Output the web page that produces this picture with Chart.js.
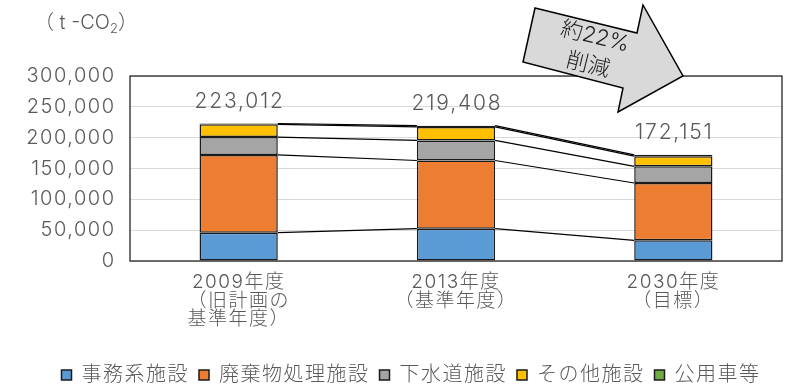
<!DOCTYPE html>
<html lang="ja">
<head>
<meta charset="utf-8">
<script src="https://cdn.jsdelivr.net/npm/chart.js@4/dist/chart.umd.min.js"></script>
<style>
  html, body { margin: 0; padding: 0; background: #fff; }
  #wrap { width: 801px; height: 387px; }
</style>
</head>
<body>
<div id="wrap"><canvas id="myChart" width="801" height="387"></canvas></div>
<script>
const years = [["2009年度", "（旧計画の", "基準年度）"], ["2013年度", "（基準年度）"], ["2030年度", "（目標）"]];
const totals = [223012, 219408, 172151];
const office = [46000, 52500, 33500];
const waste = [126000, 110500, 93000];
const sewer = [29000, 32500, 27000];
const other = [20700, 21900, 16500];
const vehicles = [1312, 2008, 2151];
const seriesNames = ["事務系施設", "廃棄物処理施設", "下水道施設", "その他施設", "公用車等"];
const seriesColors = ["#5B9BD5", "#ED7D31", "#A5A5A5", "#FFC000", "#70AD47"];
const seriesValues = [office, waste, sewer, other, vehicles];

const FONT = "Inter, 'Noto Sans CJK JP', sans-serif";
const textColor = "#595959";
const spacing = "1.5px";

const decor = {
  id: "decor",
  beforeUpdate: (chart) => {
    chart.ctx.letterSpacing = spacing;
  },
  afterLayout: (chart) => {
    // push the legend down a bit, like the original
    chart.legend.top += 8;
    chart.legend.bottom += 8;
    chart.legend.left += 20;
    chart.legend.right += 20;
  },
  beforeDraw: (chart) => {
    chart.ctx.letterSpacing = spacing;
  },
  beforeDatasetsDraw: (chart) => {
    const { ctx, chartArea: a } = chart;
    ctx.save();
    ctx.strokeStyle = "#262626";
    ctx.lineWidth = 1.3;
    ctx.strokeRect(a.left, a.top, a.right - a.left, a.bottom - a.top);
    ctx.restore();
  },
  afterDatasetsDraw: (chart) => {
    const ctx = chart.ctx;
    ctx.save();
    ctx.strokeStyle = "#000";
    ctx.lineWidth = 1.2;
    // series lines between the stacks
    chart.data.datasets.forEach((ds, d) => {
      const meta = chart.getDatasetMeta(d);
      for (let i = 0; i < meta.data.length - 1; i++) {
        const p = meta.data[i];
        const q = meta.data[i + 1];
        ctx.beginPath();
        ctx.moveTo(p.x + p.width / 2, p.y);
        ctx.lineTo(q.x - q.width / 2, q.y);
        ctx.stroke();
      }
    });
    // totals
    const top = chart.getDatasetMeta(chart.data.datasets.length - 1);
    ctx.fillStyle = textColor;
    ctx.font = "300 21px " + FONT;
    ctx.letterSpacing = "1.8px";
    ctx.textAlign = "center";
    ctx.textBaseline = "middle";
    top.data.forEach((bar, i) => {
      ctx.fillText(totals[i].toLocaleString("en-US"), bar.x + 1, bar.y - 22);
    });
    ctx.restore();
  },
  afterDraw: (chart) => {
    const ctx = chart.ctx;
    ctx.save();
    ctx.letterSpacing = "0px";
    // unit
    ctx.fillStyle = textColor;
    ctx.textBaseline = "alphabetic";
    ctx.textAlign = "left";
    ctx.font = "300 20px " + FONT;
    let x = 34;
    const base = 29;
    ctx.fillText("（ t -CO", x, base);
    x += ctx.measureText("（ t -CO").width;
    ctx.font = "300 13px " + FONT;
    ctx.fillText("2", x, base + 4);
    x += ctx.measureText("2").width;
    ctx.font = "300 20px " + FONT;
    ctx.fillText("）", x, base);

    // reduction arrow
    const pts = [[535, 8], [637, 33], [643, 5], [683, 76], [618, 112], [623, 88], [523, 62]];
    ctx.beginPath();
    pts.forEach((p, i) => (i === 0 ? ctx.moveTo(p[0], p[1]) : ctx.lineTo(p[0], p[1])));
    ctx.closePath();
    ctx.fillStyle = "#D9D9D9";
    ctx.fill();
    ctx.strokeStyle = "#000";
    ctx.lineWidth = 1.5;
    ctx.stroke();

    ctx.translate(595, 37);
    ctx.rotate((14 * Math.PI) / 180);
    ctx.fillStyle = "#1a1a1a";
    ctx.font = "300 22px " + FONT;
    ctx.textAlign = "center";
    ctx.textBaseline = "middle";
    ctx.fillText("約22%", 0, 0);
    ctx.fillText("削減", 0, 29);
    ctx.restore();
  },
};

const data = {
  labels: years,
  datasets: seriesNames.map((name, i) => ({
    label: name,
    data: seriesValues[i],
    backgroundColor: seriesColors[i],
    borderColor: "#1a1a1a",
    borderWidth: 1.5,
    borderSkipped: false,
    barPercentage: 0.36,
    categoryPercentage: 1,
  })),
};

const config = {
  type: "bar",
  data: data,
  options: {
    responsive: false,
    animation: false,
    layout: { padding: { top: 76, right: 19, left: 0, bottom: 0 } },
    plugins: {
      legend: {
        position: "bottom",
        labels: {
          font: { family: FONT, size: 20, weight: 300 },
          color: textColor,
          boxWidth: 10,
          boxHeight: 10,
          padding: 10,
        },
      },
      tooltip: { enabled: false },
    },
    scales: {
      x: {
        stacked: true,
        grid: { display: false },
        border: { display: false },
        ticks: {
          color: textColor,
          font: { family: FONT, size: 19, lineHeight: 0.98, weight: 300 },
          padding: 4,
          maxRotation: 0,
        },
        afterFit: (scale) => {
          scale.height = 86;
        },
      },
      y: {
        stacked: true,
        min: 0,
        max: 300000,
        grid: { color: "#d9d9d9", drawTicks: false },
        border: { display: false },
        ticks: {
          stepSize: 50000,
          color: textColor,
          font: { family: FONT, size: 20, weight: 300 },
          padding: 14.5,
          callback: (v) => v.toLocaleString("en-US"),
        },
        afterFit: (scale) => {
          scale.width = 130;
        },
      },
    },
  },
  plugins: [decor],
};

const ctx = document.getElementById("myChart").getContext("2d");
const myChart = new Chart(ctx, config);
</script>
</body>
</html>
